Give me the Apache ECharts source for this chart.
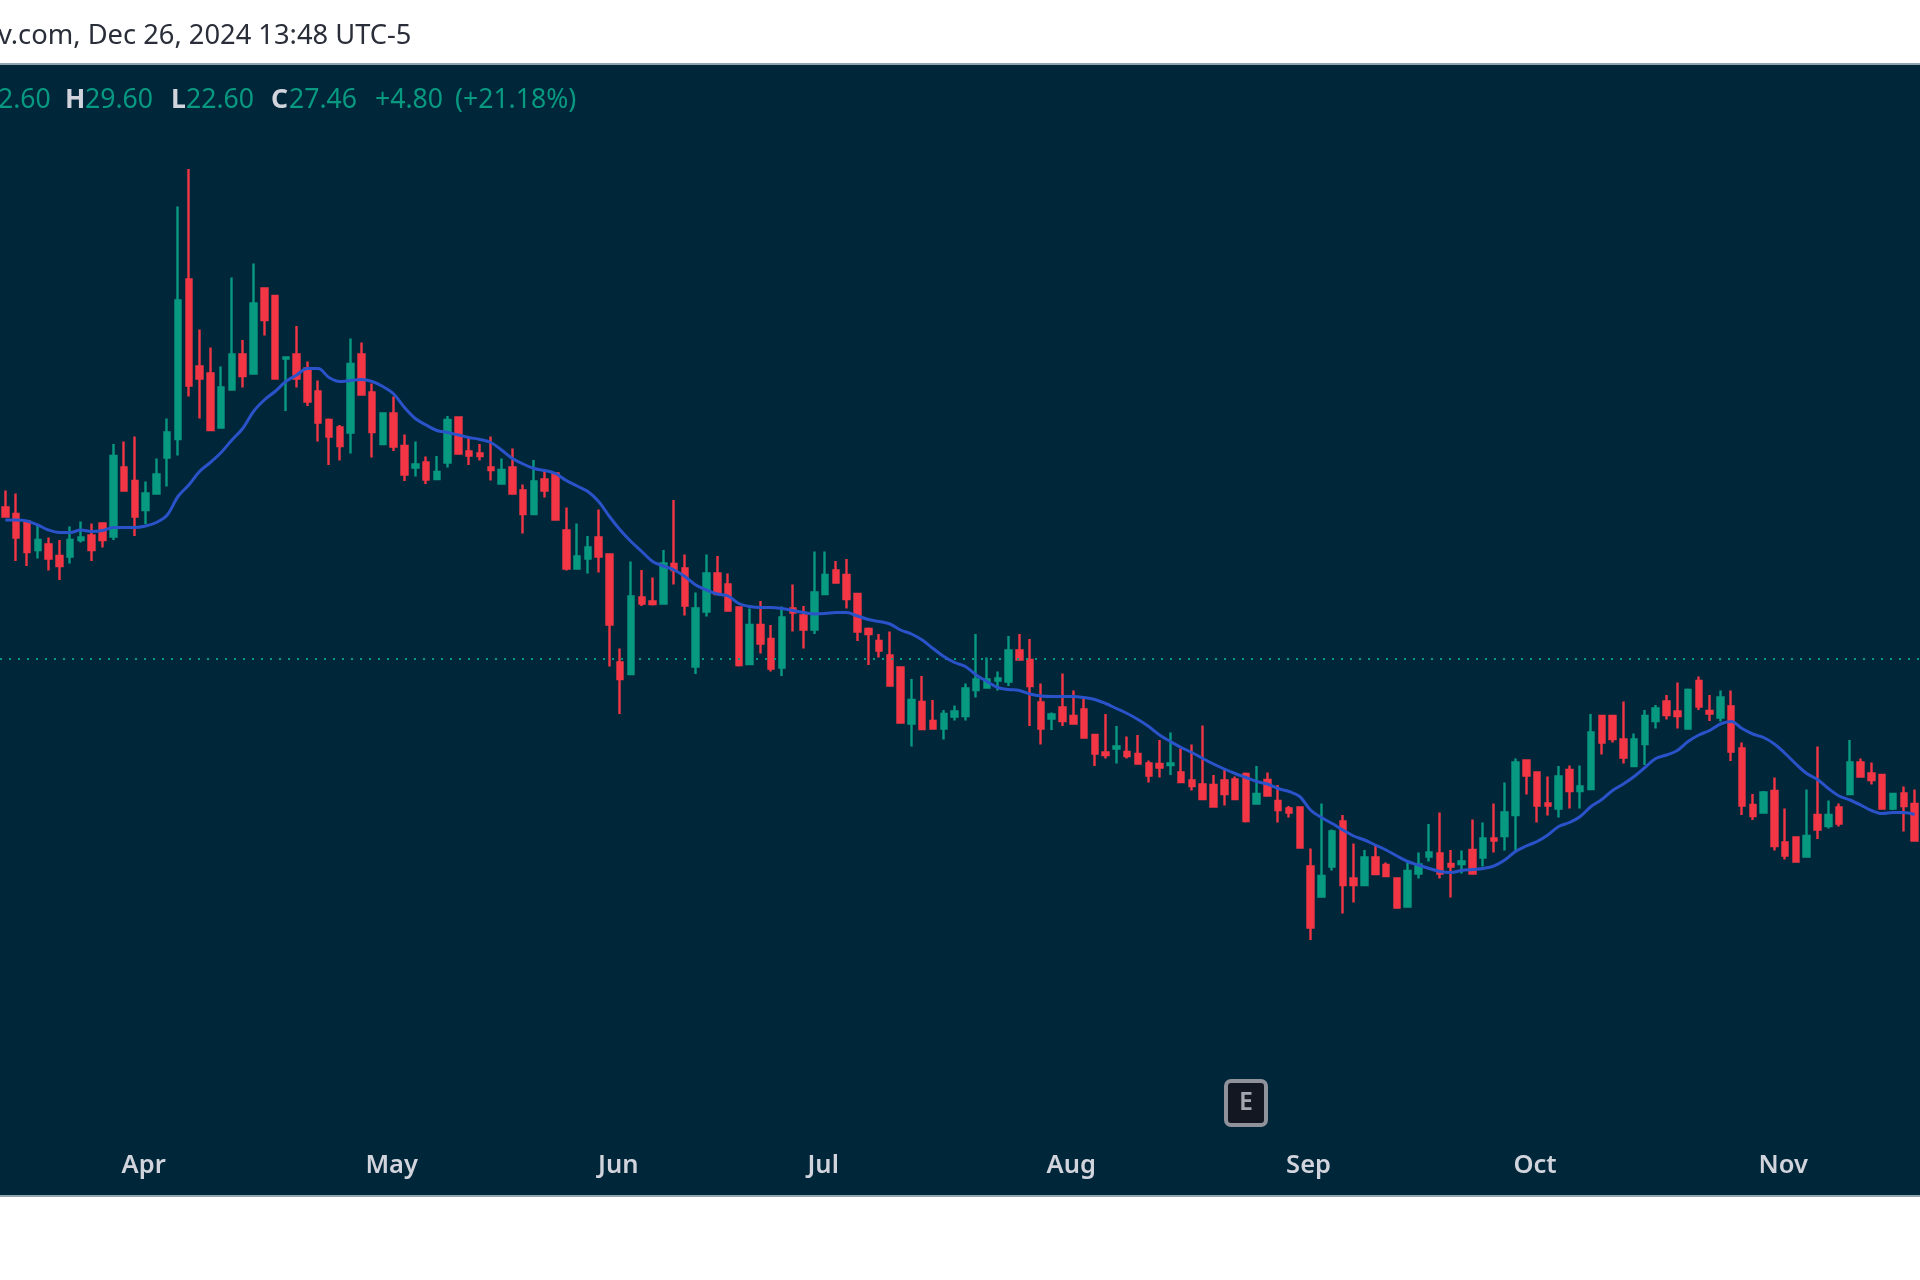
<!DOCTYPE html>
<html><head><meta charset="utf-8">
<style>html,body{margin:0;padding:0;background:#fff}#c{width:1920px;height:1280px}</style>
<script src="https://cdn.jsdelivr.net/npm/echarts@6/dist/echarts.min.js"></script>
</head><body><div id="c"></div>
<script>
const opens=[30.49,30.36,30.21,29.64,29.75,29.52,29.51,29.84,29.93,30.17,29.91,31.29,31.02,30.44,30.77,31.49,31.86,35.05,33.31,33.17,32.09,32.85,33.55,33.17,34.87,34.72,33.47,33.55,33.27,32.81,32.24,32.09,31.99,33.55,32.79,31.76,32.37,31.72,31.29,31.39,31.06,31.39,32.29,31.61,31.57,
31.29,30.97,31.29,30.83,30.36,31.05,31.17,30.03,29.27,29.47,29.89,29.55,27.39,27.16,28.69,28.61,28.57,29.36,29.27,27.31,28.41,29.17,28.95,28.49,27.36,28.14,27.86,27.29,28.47,28.33,28.05,28.76,29.23,29.14,28.76,28.06,27.82,27.53,27.29,26.17,26.60,26.22,26.07,26.31,
26.32,26.84,26.89,27.03,27.01,27.63,27.44,26.59,26.27,26.49,26.32,26.45,25.94,25.59,25.67,25.60,25.56,25.37,25.36,25.34,25.19,25.03,24.95,24.94,25.03,25.05,25.16,24.57,25.04,24.62,24.47,24.49,23.31,22.71,23.31,24.21,23.07,22.94,23.49,23.34,23.07,22.51,23.17,23.51,23.57,
23.36,23.36,23.64,23.49,23.87,23.92,24.34,25.43,25.19,24.57,24.47,25.24,24.82,24.86,26.32,26.32,25.85,25.32,25.76,26.22,26.61,26.41,26.07,27.02,26.42,26.29,26.51,25.67,24.54,24.39,24.82,23.79,23.89,23.51,24.34,24.12,24.49,24.76,25.39,25.17,25.14,24.47,24.77,24.56];
const closes=[30.31,29.89,29.60,29.84,29.47,29.32,29.84,29.89,29.64,29.84,31.52,30.83,30.31,30.77,31.15,31.99,34.63,32.93,33.07,32.04,32.89,33.55,33.12,34.57,34.24,33.07,33.49,33.07,32.61,32.19,31.91,31.72,33.36,32.75,32.00,32.37,31.71,31.15,31.35,31.05,31.20,32.24,31.57,31.53,31.52,
31.24,31.24,30.77,30.36,31.01,30.83,30.25,29.27,29.51,29.69,29.51,28.15,27.06,28.71,28.57,28.56,29.37,29.24,28.53,28.47,29.17,28.76,28.43,27.34,28.14,27.77,27.27,28.29,28.39,28.05,28.79,29.14,28.99,28.66,28.01,27.96,27.63,26.93,26.19,26.64,26.06,26.07,26.36,26.41,
26.87,27.05,27.05,27.07,27.63,27.45,26.92,26.07,26.35,26.22,26.17,25.89,25.57,25.54,25.71,25.52,25.37,25.13,25.29,25.37,25.00,24.92,24.66,24.51,24.76,24.66,24.22,24.76,24.73,24.44,24.39,23.69,22.09,23.12,24.01,22.94,22.94,23.49,23.16,23.12,22.49,23.22,23.35,23.59,23.17,
23.31,23.41,23.17,23.87,23.83,24.39,25.39,25.13,24.53,24.53,25.11,24.82,24.91,25.99,25.79,25.86,25.49,25.85,26.32,26.47,26.34,26.32,26.84,26.51,26.37,26.69,25.61,24.53,24.32,24.79,23.72,23.53,23.41,23.92,24.05,24.34,24.17,25.39,25.11,25.04,24.47,24.76,24.52,23.83];
const lows=[30.31,29.42,29.32,29.47,29.23,29.04,29.37,29.79,29.42,29.69,29.84,30.83,29.92,30.16,30.77,30.91,31.53,32.71,32.27,32.03,32.09,32.85,32.89,33.17,33.93,33.07,32.42,32.89,32.52,31.81,31.34,31.43,31.57,32.75,31.49,31.76,31.62,31.02,31.11,30.96,31.06,31.29,31.57,31.34,31.43,
31.03,30.97,30.77,29.97,30.36,30.69,30.25,29.23,29.27,29.17,29.19,27.31,26.36,27.16,28.52,28.53,28.57,28.95,28.33,27.16,28.31,28.76,28.43,27.31,27.36,27.57,27.21,27.12,28.01,27.67,27.96,28.76,28.99,28.47,27.82,27.34,27.49,26.93,26.17,25.71,26.04,26.07,25.85,26.23,
26.23,26.69,26.89,26.83,26.92,27.45,26.12,25.75,26.04,26.12,26.17,25.89,25.32,25.47,25.37,25.47,25.37,24.99,25.09,25.14,25.00,24.83,24.66,24.49,24.53,24.66,24.19,24.57,24.73,24.19,24.29,23.69,21.84,22.71,23.23,22.37,22.59,22.94,23.16,23.12,22.47,22.51,23.07,23.41,23.07,
22.69,23.17,23.17,23.31,23.59,23.63,23.61,24.75,24.19,24.33,24.29,24.47,24.47,24.86,25.55,25.79,25.37,25.32,25.34,26.07,26.25,26.07,26.07,26.44,26.22,26.21,25.42,24.34,24.24,24.39,23.63,23.45,23.41,23.51,23.86,24.07,24.11,24.76,25.09,24.95,24.47,24.44,24.01,23.83];
const highs=[30.83,30.77,30.21,30.14,29.89,29.84,30.11,30.21,30.17,30.17,31.76,31.81,31.91,31.01,31.47,32.27,36.51,37.26,34.05,33.69,33.31,35.09,33.84,35.37,34.87,34.72,33.49,34.12,33.41,33.03,32.27,32.14,33.87,33.79,32.97,32.37,32.71,31.95,31.81,31.51,31.52,32.32,32.29,31.91,31.76,
31.91,31.47,31.67,30.95,31.44,31.24,31.19,30.49,30.17,29.92,30.45,29.55,27.67,29.41,29.24,29.09,29.64,30.64,29.55,28.79,29.55,29.52,29.17,28.49,28.47,28.62,28.14,28.51,28.95,28.52,29.61,29.61,29.42,29.46,28.76,28.09,27.96,28.01,27.31,27.06,27.12,26.64,26.44,26.53,
26.97,27.96,27.49,27.21,27.92,27.96,27.86,26.97,26.39,27.17,26.83,26.69,25.94,26.36,26.12,25.91,25.94,25.43,25.84,25.99,25.67,25.75,26.13,25.14,25.25,25.11,25.19,25.32,25.19,24.94,24.52,24.49,23.67,24.57,24.05,24.34,23.77,23.64,23.72,23.39,23.07,23.44,23.59,24.16,24.39,
23.64,23.63,24.25,24.19,24.57,24.99,25.47,25.43,25.19,25.11,25.32,25.33,25.33,26.36,26.32,26.32,26.61,25.97,26.44,26.54,26.74,26.99,26.87,27.11,26.74,26.83,26.83,25.79,24.76,24.82,25.09,24.47,23.91,24.85,25.71,24.63,24.57,25.84,25.47,25.39,25.14,24.76,24.91,24.85];
const maValues=[30.24,30.24,30.22,30.14,30.04,29.99,29.99,30.04,30.01,30.03,30.09,30.09,30.09,30.12,30.19,30.34,30.71,30.94,31.21,31.39,31.59,31.84,32.07,32.41,32.64,32.81,33.01,33.14,33.27,33.27,33.09,33.01,33.03,33.05,33.01,32.91,32.76,32.49,32.27,32.14,32.03,31.99,31.94,31.89,31.85,
31.79,31.64,31.47,31.36,31.27,31.23,31.17,31.03,30.92,30.81,30.61,30.31,30.04,29.81,29.61,29.41,29.32,29.24,29.11,28.94,28.84,28.76,28.72,28.57,28.51,28.49,28.49,28.47,28.43,28.39,28.36,28.37,28.39,28.39,28.32,28.25,28.21,28.16,28.04,27.96,27.84,27.67,27.51,27.39,
27.31,27.14,27.01,26.89,26.85,26.83,26.76,26.72,26.71,26.71,26.71,26.69,26.65,26.57,26.47,26.37,26.25,26.11,25.94,25.81,25.69,25.59,25.47,25.36,25.26,25.17,25.09,25.01,24.96,24.87,24.81,24.71,24.44,24.29,24.17,24.04,23.92,23.84,23.74,23.64,23.52,23.41,23.34,23.27,23.21,
23.19,23.23,23.25,23.27,23.32,23.44,23.61,23.72,23.81,23.94,24.11,24.19,24.31,24.51,24.65,24.83,24.96,25.11,25.29,25.47,25.54,25.63,25.81,25.94,26.03,26.16,26.21,26.07,25.96,25.89,25.76,25.57,25.36,25.17,25.05,24.87,24.72,24.64,24.54,24.43,24.37,24.39,24.39,24.35];
const monthLabels=['Apr','May','Jun','Jul','Aug','Sep','Oct','Nov'];
const monthIndex=[13,36,57,76,99,121,142,165];
const lastPrice=27.46;
const headerText='v.com, Dec 26, 2024 13:48 UTC-5';
const legendParts=[['2.60','v'],['H','k'],['29.60','v'],['L','k'],['22.60','v'],['C','k'],['27.46','v'],['+4.80','v'],['(+21.18%)','v']];

const categories=opens.map((_,i)=>{const k=monthIndex.indexOf(i);return k>=0?monthLabels[k]:'d'+i;});
const candles=opens.map((o,i)=>[o,closes[i],lows[i],highs[i]]);
const UP='#089981',DOWN='#f23645',BG='#00263a',EDGE='#8fa5b0';
const legendX=[-2,65,85,171,186,271,289,375,455];
const font='"Noto Sans",Tahoma,sans-serif';
const chart=echarts.init(document.getElementById('c'),null,{renderer:'canvas'});
chart.setOption({
  animation:false,
  backgroundColor:'#ffffff',
  grid:{show:true,left:-1.4,top:65,width:categories.length*10.8,height:1131,backgroundColor:BG,borderWidth:0},
  xAxis:{type:'category',data:categories,boundaryGap:true,
    axisLine:{show:false},axisTick:{show:false},splitLine:{show:false},
    axisLabel:{inside:true,margin:17,padding:[0,4,0,0],interval:(i)=>monthIndex.includes(i),color:'#d1d4dc',fontSize:25.5,fontFamily:font,fontWeight:600}},
  yAxis:{type:'value',min:16.72,max:39.34,show:false,splitLine:{show:false}},
  series:[
    {type:'candlestick',data:candles,barWidth:6,
      itemStyle:{color:UP,color0:DOWN,borderColor:UP,borderColor0:DOWN,borderWidth:2.4},
      markLine:{silent:true,symbol:'none',label:{show:false},
        lineStyle:{color:UP,type:[2,7],width:2},data:[{yAxis:lastPrice}]}},
    {type:'line',data:maValues,showSymbol:false,symbol:'none',smooth:0.35,
      lineStyle:{color:'#2a52c9',width:3},z:5}
  ],
  graphic:[
    {type:'rect',shape:{x:0,y:63,width:1920,height:2},style:{fill:EDGE},z:100},
    {type:'rect',shape:{x:0,y:1195,width:1920,height:2},style:{fill:EDGE},z:100},
    {type:'text',x:-2,y:36,style:{text:headerText,fill:'#2a2e39',font:'27.3px '+font,textVerticalAlign:'middle'},z:100},
    ...legendParts.map((p,i)=>({type:'text',x:legendX[i],y:100,
      style:{text:p[0],fill:p[1]==='k'?'#d1d4dc':UP,font:(p[1]==='k'?'700 ':'')+'26.6px '+font,textVerticalAlign:'middle'},z:100})),
    {type:'rect',shape:{x:1226,y:1081,width:40,height:44,r:5},style:{fill:'#131722',stroke:'#8f919b',lineWidth:4},z:100},
    {type:'text',x:1246,y:1103,style:{text:'E',fill:'#a3a6af',font:'600 25px '+font,textAlign:'center',textVerticalAlign:'middle'},z:101}
  ]
});
</script></body></html>
